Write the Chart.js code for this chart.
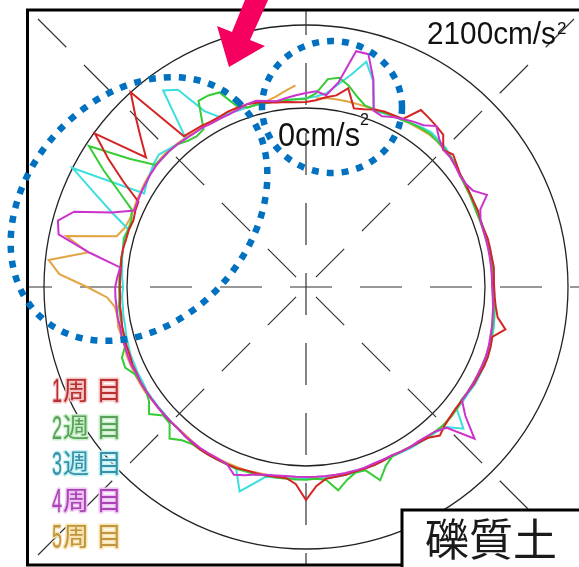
<!DOCTYPE html>
<html>
<head>
<meta charset="utf-8">
<script src="https://cdn.jsdelivr.net/npm/chart.js@4.4.1/dist/chart.umd.min.js"></script>
<style>
  html, body { margin: 0; padding: 0; background: #fff; }
</style>
</head>
<body>
<canvas id="chart1" width="579" height="567"></canvas>
<script>
"use strict";

// one reading every 3 degrees, clockwise from the top
var ANGLE_STEP = 3;
var angleLabels = [];
for (var a = 0; a < 360; a += ANGLE_STEP) {
  angleLabels.push(a + '°');
}

// radial axis: 0 cm/s2 on the inner circle, 2100 cm/s2 on the outer one
var AXIS_ORIGIN = -4529;
var AXIS_MAX = 2100;
var axisTicks = [0, 2100];

var seriesNames = ['1周目', '2週目', '3週目', '4周目', '5周目'];

var cycle1 = [150, 200, 300, 380, 610, 150, 200, 280, 330, 350,
  380, 810, 760, 710, 660, 380, 480, 380, 300, 280,
  250, 230, 230, 200, 200, 230, 230, 230, 250, 230,
  230, 250, 300, 380, 630, 350, 380, 400, 400, 380,
  380, 350, 350, 350, 380, 430, 530, 380, 330, 300,
  280, 250, 280, 300, 300, 300, 330, 330, 350, 510,
  860, 460, 330, 330, 350, 350, 350, 380, 380, 380,
  380, 380, 350, 330, 300, 300, 300, 300, 300, 300,
  300, 280, 280, 250, 250, 230, 230, 200, 200, 180,
  180, 180, 180, 200, 200, 180, 180, 150, 200, 230,
  810, 1440, 2070, 680, 1090, 1570, 2100, 380, 350, 330,
  300, 300, 330, 330, 330, 300, 250, 200, 180, 150];

var cycle2 = [230, 380, 760, 830, 680, 460, 300, 280, 300, 330,
  350, 400, 430, 460, 430, 430, 400, 350, 280, 250,
  230, 200, 180, 180, 180, 180, 200, 200, 200, 200,
  200, 230, 250, 280, 300, 330, 350, 350, 380, 380,
  350, 350, 330, 380, 400, 400, 380, 350, 330, 300,
  280, 280, 430, 710, 350, 330, 460, 680, 380, 330,
  350, 350, 350, 350, 350, 380, 380, 400, 380, 380,
  380, 380, 380, 460, 630, 350, 330, 580, 380, 300,
  300, 330, 480, 460, 280, 250, 230, 230, 230, 200,
  200, 200, 200, 200, 200, 230, 200, 200, 300, 780,
  1390, 2020, 990, 380, 350, 350, 330, 230, 180, 230,
  910, 910, 860, 380, 250, 250, 230, 230, 230, 230];

var cycle3 = [250, 300, 400, 660, 960, 1370, 960, 250, 280, 330,
  350, 400, 460, 510, 480, 460, 400, 350, 300, 280,
  250, 230, 230, 200, 200, 200, 230, 230, 230, 230,
  230, 250, 280, 300, 330, 350, 380, 400, 400, 400,
  400, 380, 380, 380, 830, 480, 400, 380, 350, 330,
  300, 280, 280, 300, 300, 330, 330, 330, 330, 330,
  330, 330, 330, 350, 380, 630, 910, 400, 380, 380,
  380, 350, 350, 330, 300, 300, 280, 280, 280, 280,
  250, 250, 230, 230, 200, 180, 150, 150, 130, 130,
  100, 130, 150, 180, 200, 250, 200, 730, 1340, 2100,
  200, 280, 350, 430, 480, 400, 330, 300, 1620, 1420,
  610, 300, 280, 250, 250, 250, 230, 230, 230, 230];

var cycle4 = [380, 430, 350, 710, 1570, 1570, 990, 250, 200, 300,
  380, 460, 530, 710, 510, 380, 380, 330, 280, 280,
  350, 610, 300, 200, 180, 180, 180, 180, 180, 180,
  180, 200, 230, 250, 280, 300, 330, 350, 350, 350,
  350, 350, 350, 660, 1210, 510, 380, 330, 300, 300,
  280, 250, 250, 250, 280, 280, 280, 280, 280, 280,
  280, 280, 280, 300, 330, 380, 480, 560, 380, 350,
  350, 350, 330, 330, 300, 300, 300, 300, 300, 300,
  300, 290, 310, 300, 290, 300, 280, 300, 290, 300,
  300, 250, 200, 1010, 1870, 1970, 1640, 730, 230, 250,
  280, 300, 330, 350, 350, 350, 330, 300, 280, 280,
  250, 250, 250, 280, 330, 350, 280, 230, 280, 330];

// the fifth cycle stops just short of the top
var cycle5 = [null, 250, 280, 280, 280, 280, 280, 300, 300, 330,
  350, 380, 400, 430, 430, 400, 380, 350, 300, 250,
  230, 230, 200, 200, 200, 200, 200, 230, 230, 230,
  230, 230, 250, 280, 300, 330, 350, 350, 350, 350,
  350, 350, 350, 350, 380, 400, 380, 350, 330, 300,
  280, 280, 280, 280, 280, 300, 300, 300, 300, 300,
  300, 300, 300, 330, 330, 330, 350, 350, 350, 350,
  350, 350, 330, 300, 300, 300, 300, 300, 300, 330,
  330, 330, 330, 330, 300, 300, 330, 300, 330, 510,
  1010, 1720, 2020, 1060, 1670, 430, 300, 250, 250, 280,
  300, 330, 350, 380, 380, 380, 350, 330, 300, 300,
  280, 280, 280, 280, 250, 250, 280, 350, 460, 580];

var lineColors = ['#d42424', '#36cc36', '#3cdede', '#cc33cc', '#e3a444'];
var textColors = ['#b83030', '#5aa05a', '#3a8ea8', '#a844b4', '#c09440'];
var haloColors = ['#f6c4c4', '#c8f0c8', '#c0f2f4', '#eec4f2', '#f8e4b0'];

// chart frame, cross lines, labels and the hand-drawn marks on top
var decor = {
  id: 'decor',
  beforeDraw: function (chart) {
    var c = chart.ctx;
    c.save();
    c.fillStyle = '#fff';
    c.fillRect(0, 0, chart.width, chart.height);
    c.restore();
  },
  beforeDatasetsDraw: function (chart) {
    var s = chart.scales.r;
    var c = chart.ctx;
    var cx = s.xCenter, cy = s.yCenter;
    c.save();
    c.strokeStyle = '#333';
    c.lineWidth = 1.2;
    c.setLineDash([42, 28]);
    c.lineDashOffset = 17;
    c.beginPath(); c.moveTo(27, cy); c.lineTo(579, cy); c.stroke();
    c.beginPath(); c.moveTo(cx, 10); c.lineTo(cx, 565); c.stroke();
    c.setLineDash([40, 25]);
    c.lineDashOffset = 51;
    var dirs = [[-1, -1], [1, -1], [-1, 1], [1, 1]];
    dirs.forEach(function (d) {
      var tx = d[0] < 0 ? cx - 28 : 579 - cx;
      var ty = d[1] < 0 ? cy - 10 : 565 - cy;
      var t = Math.min(tx, ty);
      c.beginPath();
      c.moveTo(cx, cy);
      c.lineTo(cx + d[0] * t, cy + d[1] * t);
      c.stroke();
    });
    c.restore();
  },
  afterDraw: function (chart) {
    var c = chart.ctx;
    c.save();

    // frame
    c.strokeStyle = '#000';
    c.lineWidth = 3;
    c.strokeRect(27.5, 10, 620, 555);

    // soil type box
    c.fillStyle = '#fff';
    c.fillRect(401, 509, 200, 60);
    c.strokeRect(402, 510, 200, 60);
    c.fillStyle = '#1a1a1a';
    c.font = '44px "Noto Sans CJK JP"';
    c.textAlign = 'center';
    c.textBaseline = 'middle';
    c.fillText('礫質土', 491, 539);

    // axis labels
    c.textAlign = 'left';
    c.textBaseline = 'alphabetic';
    c.fillStyle = '#111';
    c.font = '32px "Liberation Sans"';
    c.fillText('2100cm/s', 427, 44, 129);
    c.font = '17px "Liberation Sans"';
    c.fillText('2', 557, 34);
    c.font = '33px "Liberation Sans"';
    c.fillText('0cm/s', 278, 146, 82);
    c.font = '16px "Liberation Sans"';
    c.fillText('2', 360, 125);

    // cycle legend
    c.textBaseline = 'alphabetic';
    c.lineJoin = 'round';
    for (var i = 0; i < seriesNames.length; i++) {
      var y = 400 + i * 36.5;
      var name = seriesNames[i];
      var parts = [
        [name.charAt(0), 52, '33px "Liberation Sans"', 10, y + 2],
        [name.charAt(1), 63, '26px "Noto Sans CJK JP"', 26, y],
        [name.charAt(2), 96, '26px "Noto Sans CJK JP"', 26, y]
      ];
      parts.forEach(function (p) {
        c.font = p[2];
        c.strokeStyle = haloColors[i];
        c.lineWidth = 3;
        c.strokeText(p[0], p[1], p[4], p[3]);
        c.fillStyle = textColors[i];
        c.fillText(p[0], p[1], p[4], p[3]);
      });
    }

    // blue dotted ellipses
    c.strokeStyle = '#0070c0';
    c.lineWidth = 6.5;
    c.setLineDash([7, 8]);
    c.beginPath();
    c.ellipse(139, 209, 146, 112, -48 * Math.PI / 180, 0, Math.PI * 2);
    c.stroke();
    c.beginPath();
    c.ellipse(332, 107, 70, 66, 0, 0, Math.PI * 2);
    c.stroke();
    c.setLineDash([]);

    // pink arrow
    c.fillStyle = '#f5005f';
    c.beginPath();
    c.moveTo(249, -10);
    c.lineTo(232, 32);
    c.lineTo(217, 26);
    c.lineTo(229, 67);
    c.lineTo(265, 46);
    c.lineTo(250, 40);
    c.lineTo(269, -2);
    c.closePath();
    c.fill();

    c.restore();
  }
};

var cycles = [cycle1, cycle2, cycle3, cycle4, cycle5];
var drawOrder = [2, 3, 4, 1, 5];

var ctx = document.getElementById('chart1').getContext('2d');
new Chart(ctx, {
  type: 'radar',
  data: {
    labels: angleLabels,
    datasets: cycles.map(function (values, i) {
      return {
        label: seriesNames[i],
        data: values,
        borderColor: lineColors[i],
        borderWidth: 2,
        fill: false,
        spanGaps: false,
        order: drawOrder[i]
      };
    })
  },
  plugins: [decor],
  options: {
    responsive: false,
    animation: false,
    layout: {
      padding: { left: 44, right: 11, top: 25, bottom: 18 }
    },
    plugins: {
      legend: { display: false },
      tooltip: { enabled: false }
    },
    elements: {
      point: { radius: 0, hitRadius: 0 },
      line: { tension: 0 }
    },
    scales: {
      r: {
        min: AXIS_ORIGIN,
        max: AXIS_MAX,
        startAngle: 0,
        afterBuildTicks: function (scale) {
          scale.ticks = [{ value: AXIS_ORIGIN }].concat(axisTicks.map(function (v) {
            return { value: v };
          }));
        },
        ticks: { display: false },
        pointLabels: { display: false },
        angleLines: { display: false },
        grid: { circular: true, color: '#222', lineWidth: 1.3 }
      }
    }
  }
});
</script>
</body>
</html>
